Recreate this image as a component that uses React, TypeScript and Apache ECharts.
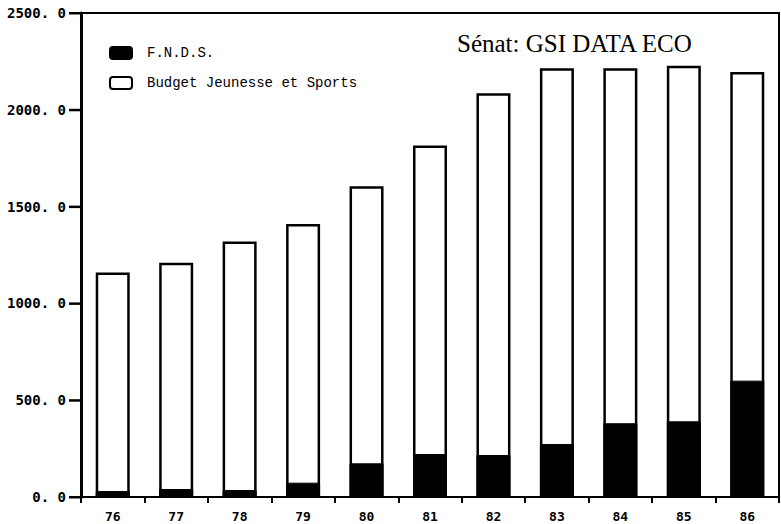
import React, { useEffect, useRef } from "react";
import * as echarts from "echarts";

const categories = ["76", "77", "78", "79", "80", "81", "82", "83", "84", "85", "86"];
const budgetTotal = [1160, 1210, 1320, 1410, 1605, 1815, 2085, 2215, 2215, 2228, 2195];
const fnds = [31, 41, 36, 74, 174, 222, 217, 274, 381, 391, 601];
const yTicks = [0, 500, 1000, 1500, 2000, 2500];

export default function App() {
  const ref = useRef<HTMLDivElement>(null);
  useEffect(() => {
    const chart = echarts.init(ref.current!, null, { renderer: "svg" });
    chart.setOption({
      animation: false,
      backgroundColor: "#fff",
      title: {
        text: "Sénat: GSI DATA ECO",
        left: 452,
        top: 26,
        textStyle: { fontFamily: "Liberation Serif", fontSize: 25, fontWeight: "normal", color: "#000" },
      },
      legend: {
        orient: "vertical",
        left: 104,
        top: 41,
        itemWidth: 22,
        itemHeight: 12,
        itemGap: 16,
        data: ["F.N.D.S.", "Budget Jeunesse et Sports"],
        textStyle: { fontFamily: "Liberation Mono", fontSize: 14, color: "#000", padding: [0, 0, 0, 10] },
      },
      grid: {
        left: 81,
        right: 2,
        top: 13,
        bottom: 27,
        show: true,
        borderColor: "#000",
        borderWidth: 2,
        backgroundColor: "transparent",
      },
      xAxis: {
        type: "category",
        data: categories,
        axisLine: { lineStyle: { color: "#000", width: 2 } },
        axisTick: { show: true, length: 6, lineStyle: { color: "#000", width: 2 } },
        axisLabel: {
          color: "#000",
          fontFamily: "DejaVu Sans Mono",
          fontWeight: "bold",
          fontSize: 13,
          margin: 13,
        },
      },
      yAxis: {
        type: "value",
        min: yTicks[0],
        max: yTicks[yTicks.length - 1],
        interval: 500,
        axisLine: { show: true, lineStyle: { color: "#000", width: 3 } },
        axisTick: { show: false },
        splitLine: { show: false },
        axisLabel: {
          color: "#000",
          fontFamily: "DejaVu Sans Mono",
          fontWeight: "bold",
          fontSize: 14,
          margin: 15,
          formatter: (v: number) => v.toFixed(1).replace(".", ". "),
        },
      },
      series: [
        {
          name: "Budget Jeunesse et Sports",
          type: "bar",
          data: budgetTotal,
          barWidth: 34,
          barGap: "-100%",
          itemStyle: { color: "#fff", borderColor: "#000", borderWidth: 2.5 },
          z: 2,
        },
        {
          name: "F.N.D.S.",
          type: "bar",
          data: fnds,
          barWidth: 34,
          barGap: "-100%",
          itemStyle: { color: "#000", borderColor: "#000", borderWidth: 1 },
          z: 3,
        },
        {
          name: "yticks",
          type: "custom",
          silent: true,
          clip: false,
          z: 5,
          encode: { x: 0, y: 1 },
          data: yTicks.map((v) => [0, v]),
          renderItem: (params: any, api: any) => {
            const y = api.coord([0, api.value(1)])[1];
            const x0 = params.coordSys.x;
            return {
              type: "rect",
              shape: { x: x0 - 12, y: y - 1, width: 12, height: 2.5 },
              style: { fill: "#000" },
            };
          },
        },
      ],
    });
    return () => chart.dispose();
  }, []);
  return <div ref={ref} style={{ width: 781, height: 524, position: "absolute", left: 0, top: 0 }} />;
}
